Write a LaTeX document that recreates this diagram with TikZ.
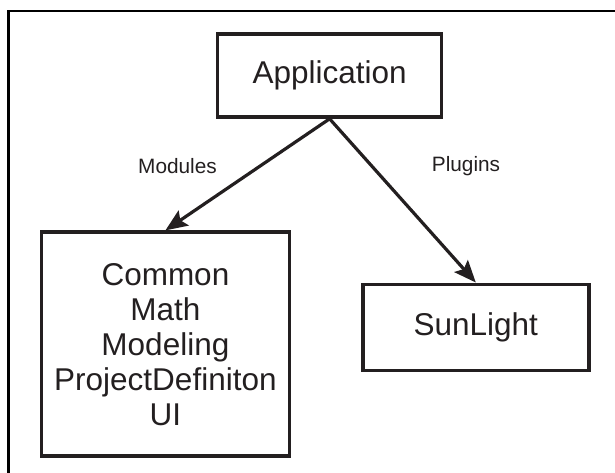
\documentclass[tikz,border=0pt]{standalone}
\usepackage{fontspec}
\setmainfont{Liberation Sans}
\usetikzlibrary{arrows.meta}
\definecolor{ink}{HTML}{231F20}
\tikzset{
  box/.style={draw=ink, line width=3.6pt, inner sep=0pt, text=ink,
    font=\fontsize{31.5}{35}\selectfont},
  lbl/.style={inner sep=0pt, text=ink, font=\fontsize{20.8}{24}\selectfont},
  link/.style={draw=ink, line width=3.2pt,
    -{Stealth[length=22pt,width=18pt,inset=4pt]}}
}
\begin{document}
\begin{tikzpicture}[x=1pt,y=-1pt]
	\useasboundingbox (0,0) rectangle (615,472);
	\clip (0,0) rectangle (615,472);
	% frame
	\draw[line width=2.4pt] (8.5,480) -- (8.5,10.8) -- (620,10.8);

	\node[box, minimum width=224pt, minimum height=83pt] (AP) at (329.6,75.5) {Application};
	\node[box, minimum width=248pt, minimum height=224pt, align=center] (CM) at (165.4,344.2)
		{Common\\Math\\Modeling\\ProjectDefiniton\\UI};
	\node[box, minimum width=226pt, minimum height=86pt] (SL) at (475.8,327.3) {SunLight};

	\node[lbl] (MO) at (177.5,166.5) {Modules};
	\node[lbl] (PL) at (466,166) {Plugins};

	\draw[link] (AP.south)--(CM.north);
	\draw[link] (AP.south)--(SL.north);
\end{tikzpicture}
\end{document}
